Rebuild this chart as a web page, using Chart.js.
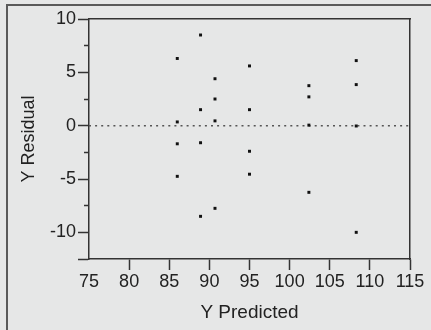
<!DOCTYPE html>
<html>
<head>
<meta charset="utf-8">
<script src="https://cdn.jsdelivr.net/npm/chart.js@4/dist/chart.umd.min.js"></script>
<style>
  html, body { margin:0; padding:0; background:#e6e7e7; }
  #wrap { position:relative; width:431px; height:330px; overflow:hidden; }
  #frame { position:absolute; left:6px; top:4px; right:-10px; bottom:-10px;
           border-top:2px solid #5a5a5a; border-left:2px solid #5a5a5a; }
  #c { position:absolute; left:0; top:0; }
</style>
</head>
<body>
<div id="wrap">
  <div id="frame"></div>
  <canvas id="c" width="431" height="330"></canvas>
</div>
<script>
// fitted values (x) and residuals (y)
const predicted = [86.0, 86.0, 86.0, 86.0,
                   88.9, 88.9, 88.9, 88.9,
                   90.7, 90.7, 90.7, 90.7,
                   95.0, 95.0, 95.0, 95.0,
                   102.4, 102.4, 102.4, 102.4,
                   108.3, 108.3, 108.3, 108.3];
const residuals = [6.3, 0.35, -1.7, -4.75,
                   8.5, 1.5, -1.6, -8.5,
                   4.4, 2.5, 0.45, -7.75,
                   5.6, 1.5, -2.4, -4.55,
                   3.75, 2.7, 0.05, -6.25,
                   6.1, 3.85, -0.03, -10.0];

const xTicks = [75, 80, 85, 90, 95, 100, 105, 110, 115];
const yMajorTicks = [10, 5, 0, -5, -10];
const yMinorTicks = [7.5, 2.5, -2.5, -7.5];
const xMin = 75, xMax = 115, yMin = -12.5, yMax = 10;
const refLineY = 0;

const ink = '#333';
const family = '"Liberation Sans", Arial, sans-serif';
const font = {family, size:18};
const tickMarks = list => scale => { scale.ticks = list.map(v => ({value:v})); };

new Chart(document.getElementById('c'), {
  type:'scatter',
  data:{
    datasets:[
      {
        data: predicted.map((x,i) => ({x, y:residuals[i]})),
        pointStyle:'rect', pointRadius:2.1, pointHoverRadius:2.1,
        backgroundColor:'#111', borderWidth:0
      },
      {
        type:'line',
        data:[{x:xMin, y:refLineY}, {x:xMax, y:refLineY}],
        borderColor:'#555', borderWidth:1.5, borderDash:[2,4.1],
        pointRadius:0, fill:false
      }
    ]
  },
  options:{
    responsive:false, animation:false, events:[],
    layout:{padding:{left:0, top:19, right:21, bottom:0}},
    plugins:{legend:{display:false}, tooltip:{enabled:false}},
    scales:{
      x:{
        type:'linear', position:'bottom', min:xMin, max:xMax,
        afterBuildTicks: tickMarks(xTicks),
        afterFit: s => { s.height = 71; },
        grid:{drawOnChartArea:false, tickLength:11, tickWidth:1.5,
              tickColor: c => c.tick && c.tick.value === xMin ? 'rgba(0,0,0,0)' : ink},
        border:{color:ink, width:1.5},
        ticks:{color:'#222', font, padding:1, maxRotation:0, autoSkip:false},
        title:{display:true, text:'Y Predicted', color:'#222',
               font:{family, size:19}, padding:{top:0, bottom:6}}
      },
      x2:{
        type:'linear', position:'top', min:xMin, max:xMax,
        afterFit: s => { s.height = 0; },
        grid:{drawOnChartArea:false, drawTicks:false},
        border:{color:ink, width:1.5},
        ticks:{display:false}
      },
      y:{
        type:'linear', position:'left', weight:1, min:yMin, max:yMax,
        afterBuildTicks: tickMarks([yMin, ...yMajorTicks]),
        afterFit: s => { s.width = 89; },
        grid:{drawOnChartArea:false, tickLength:11, tickWidth:1.5, tickColor:ink},
        border:{color:ink, width:1.5},
        ticks:{color:'#222', font, padding:2, autoSkip:false,
               callback: v => v === yMin ? '' : v},
        title:{display:true, text:'Y Residual', color:'#222',
               font:{family, size:18}, padding:{top:18, bottom:0}}
      },
      yMinor:{
        type:'linear', position:'left', weight:0, min:yMin, max:yMax,
        afterBuildTicks: tickMarks(yMinorTicks),
        afterFit: s => { s.width = 0; },
        grid:{drawOnChartArea:false, tickLength:5, tickWidth:1.5, tickColor:ink},
        border:{display:false},
        ticks:{display:false}
      },
      y2:{
        type:'linear', position:'right', min:yMin, max:yMax,
        afterFit: s => { s.width = 0; },
        grid:{drawOnChartArea:false, drawTicks:false},
        border:{color:ink, width:1.5},
        ticks:{display:false}
      }
    }
  }
});
</script>
</body>
</html>
